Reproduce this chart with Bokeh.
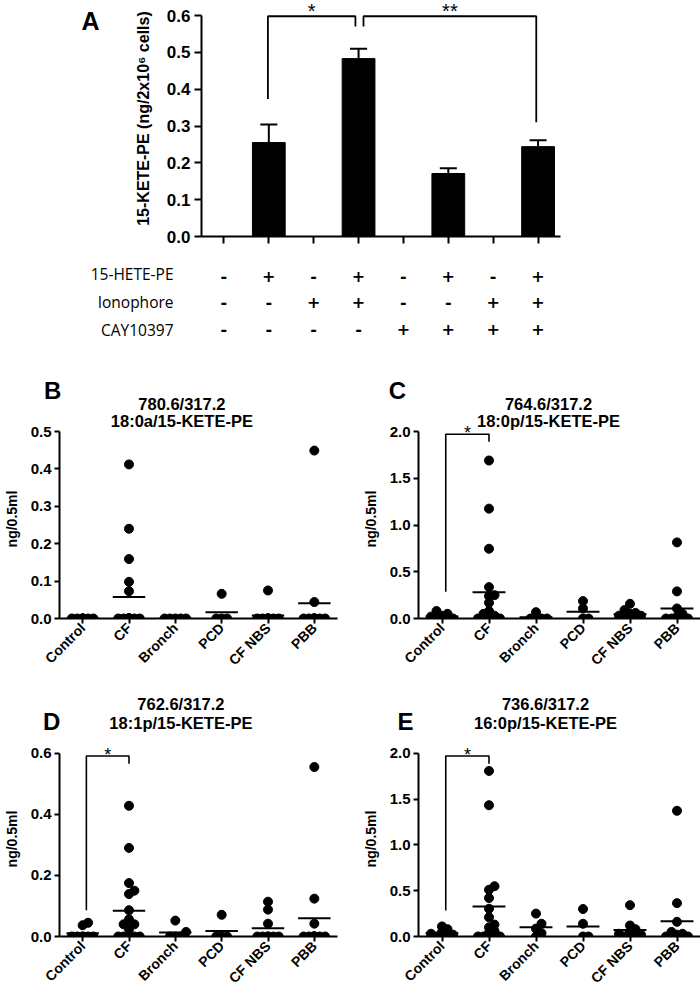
import numpy as np
from bokeh.plotting import figure
from bokeh.models import Range1d, FixedTicker, Label, NumeralTickFormatter
from bokeh.layouts import column, row
from bokeh.embed import file_html
from bokeh.resources import INLINE
from bokeh.core.properties import value

# ---------------- data ----------------
# Panel A
a_positions = [0, 1, 2, 3, 4, 5, 6, 7]
a_means = [0.0, 0.255, 0.0, 0.483, 0.0, 0.171, 0.0, 0.244]
a_sem = [0.0, 0.049, 0.0, 0.027, 0.0, 0.014, 0.0, 0.017]
a_yticks = [0.0, 0.1, 0.2, 0.3, 0.4, 0.5, 0.6]
a_ylabel = "15-KETE-PE (ng/2x10\u2076 cells)"
row_labels = ["15-HETE-PE", "Ionophore", "CAY10397"]
hete = ["-", "+", "-", "+", "-", "+", "-", "+"]
iono = ["-", "-", "+", "+", "-", "-", "+", "+"]
cay = ["-", "-", "-", "-", "+", "+", "+", "+"]
a_br_x0 = [0.98, 3.11]
a_br_x1 = [2.93, 6.96]
a_br_top = [0.598, 0.598]
a_br_left = [0.373, 0.570]
a_br_right = [0.570, 0.310]
a_br_text = ["*", "**"]

groups = ["Control", "CF", "Bronch", "PCD", "CF NBS", "PBB"]

# Panel B 780.6/317.2 18:0a/15-KETE-PE
b_vals = [
    [0, 0, 0, 0, 0, 0, 0, 0],
    [0.412, 0.24, 0.159, 0.098, 0.073, 0, 0, 0, 0, 0, 0, 0, 0, 0, 0, 0, 0],
    [0, 0, 0, 0, 0],
    [0.066, 0, 0, 0],
    [0.075, 0, 0, 0, 0, 0, 0, 0, 0],
    [0.449, 0.044, 0, 0, 0, 0, 0, 0, 0, 0, 0, 0],
]
# Panel C 764.6/317.2 18:0p/15-KETE-PE
c_vals = [
    [0.08, 0.05, 0.03, 0.02, 0, 0, 0, 0],
    [1.69, 1.175, 0.746, 0.336, 0.25, 0.24, 0.168, 0.08, 0.05, 0.03, 0.02, 0, 0, 0, 0, 0, 0],
    [0.068, 0, 0, 0, 0],
    [0.186, 0.107, 0, 0],
    [0.157, 0.09, 0.06, 0.05, 0.03, 0.03, 0, 0, 0],
    [0.814, 0.29, 0.107, 0.05, 0.02, 0, 0, 0, 0, 0, 0, 0],
]
# Panel D 762.6/317.2 18:1p/15-KETE-PE
d_vals = [
    [0.045, 0.037, 0, 0, 0, 0, 0, 0],
    [0.428, 0.29, 0.175, 0.15, 0.139, 0.086, 0.056, 0.04, 0.04, 0.024, 0, 0, 0, 0, 0, 0, 0],
    [0.052, 0.015, 0, 0, 0],
    [0.071, 0, 0, 0],
    [0.114, 0.088, 0.042, 0, 0, 0, 0, 0, 0],
    [0.555, 0.124, 0.042, 0, 0, 0, 0, 0, 0, 0, 0, 0],
]
# Panel E 736.6/317.2 16:0p/15-KETE-PE
e_vals = [
    [0.11, 0.08, 0.05, 0.03, 0.02, 0, 0, 0],
    [1.807, 1.433, 0.549, 0.51, 0.42, 0.303, 0.21, 0.13, 0.1, 0.06, 0.04, 0, 0, 0, 0, 0, 0],
    [0.25, 0.139, 0.086, 0.036, 0],
    [0.3, 0.139, 0, 0],
    [0.342, 0.12, 0.08, 0.05, 0.03, 0.02, 0, 0, 0],
    [1.372, 0.364, 0.16, 0.05, 0.03, 0.02, 0, 0, 0, 0, 0, 0],
]

b_yticks = [0.0, 0.1, 0.2, 0.3, 0.4, 0.5]
c_yticks = [0.0, 0.5, 1.0, 1.5, 2.0]
d_yticks = [0.0, 0.2, 0.4, 0.6]
e_yticks = [0.0, 0.5, 1.0, 1.5, 2.0]

# significance brackets: x0, x1, top, left-leg bottom, right-leg bottom, label
c_sig = (0.08, 1.0, 1.97, 0.286, 1.89, "*")
d_sig = (0.08, 1.0, 0.591, 0.086, 0.566, "*")
e_sig = (0.08, 1.0, 1.97, 0.285, 1.886, "*")

# ---------------- styling ----------------
FONT = "Liberation Sans"
BLACK = "#000000"
W = 700


def style_axis(ax, tick_size, lw=2):
    ax.axis_line_width = lw
    ax.axis_line_color = BLACK
    ax.major_tick_line_width = lw
    ax.major_tick_line_color = BLACK
    ax.minor_tick_line_color = None
    ax.major_tick_in = 0
    ax.major_label_text_font = FONT
    ax.major_label_text_font_style = "bold"
    ax.major_label_text_font_size = tick_size
    ax.major_label_text_color = BLACK
    ax.axis_label_text_font = FONT
    ax.axis_label_text_font_style = "bold"
    ax.axis_label_text_color = BLACK


# ---------------- Panel A ----------------
A_L, A_FW = 201, 359
A_T, A_HEAD, A_AX, A_B = 0, 15, 221, 15
A_FH = A_HEAD + A_AX
A_H = A_T + A_FH + A_B
A_YMAX = 0.6 * A_FH / A_AX
a_xrange = Range1d(-0.5, 7.5)
pA = figure(width=W, height=A_H, x_range=a_xrange, y_range=Range1d(0, A_YMAX),
            output_backend="svg", toolbar_location=None,
            min_border_left=A_L, min_border_right=W - A_L - A_FW,
            min_border_top=A_T, min_border_bottom=A_B)
pA.grid.visible = False
pA.outline_line_color = None
style_axis(pA.yaxis[0], "17px")
style_axis(pA.xaxis[0], "15px")
pA.yaxis.ticker = FixedTicker(ticks=a_yticks)
pA.yaxis.bounds = (0, 0.6)
pA.yaxis.formatter = NumeralTickFormatter(format="0.0")
pA.yaxis.major_tick_out = 7
pA.yaxis.major_label_standoff = 4
pA.yaxis.axis_label = a_ylabel
pA.yaxis.axis_label_text_font_size = "16px"
pA.yaxis.axis_label_standoff = 12
pA.xaxis.ticker = FixedTicker(ticks=a_positions)
pA.xaxis.major_label_overrides = {i: "" for i in a_positions}
pA.xaxis.major_tick_out = 7

pA.vbar(x=a_positions, top=a_means, width=0.73, fill_color=BLACK, line_color=BLACK, line_width=1)
ex = [x for x, s in zip(a_positions, a_sem) if s > 0]
etop = [m + s for m, s in zip(a_means, a_sem) if s > 0]
emid = [m for m, s in zip(a_means, a_sem) if s > 0]
pA.segment(x0=ex, y0=emid, x1=ex, y1=etop, line_color=BLACK, line_width=2)
pA.segment(x0=[x - 0.19 for x in ex], y0=etop, x1=[x + 0.19 for x in ex], y1=etop,
           line_color=BLACK, line_width=2)
pA.multi_line(xs=[[a, a, b, b] for a, b in zip(a_br_x0, a_br_x1)],
              ys=[[l, t, t, r] for l, t, r in zip(a_br_left, a_br_top, a_br_right)],
              line_color=BLACK, line_width=1.8)
pA.text(x=[(a + b) / 2 for a, b in zip(a_br_x0, a_br_x1)], y=[t + 0.013 for t in a_br_top],
        text=a_br_text, text_align="center", text_baseline="alphabetic",
        text_font=value(FONT), text_font_size="20px", text_color=BLACK)

lx = -0.5 + (90 - A_L) * 8.0 / A_FW
ly = (A_T + A_FH - 20) * A_YMAX / A_FH
pA.add_layout(Label(x=lx, y=ly, text="A", text_font=FONT, text_font_style="bold",
                    text_font_size="25px", text_align="center", text_baseline="middle",
                    text_color=BLACK), "left")

# ---------------- table under A ----------------
T_H = 92
T_ROW0, T_ROWSTEP = 24, 26.5
T_FONT = 15.5
ty_bottom = (T_H - T_ROW0) / T_ROWSTEP
ty_top = -T_ROW0 / T_ROWSTEP
pT = figure(width=W, height=T_H, x_range=a_xrange, y_range=Range1d(ty_bottom, ty_top),
            output_backend="svg", toolbar_location=None, x_axis_location=None,
            y_axis_location=None, min_border_left=A_L, min_border_right=W - A_L - A_FW,
            min_border_top=0, min_border_bottom=0)
pT.grid.visible = False
pT.outline_line_color = None
for r, signs in enumerate([hete, iono, cay]):
    pT.text(x=a_positions, y=[r] * len(signs), text=signs, text_align="center",
            text_baseline="middle", text_font=value("DejaVu Sans"), text_font_style="bold",
            text_font_size="16px", text_color=BLACK)
lab_x = -0.5 + (173 - A_L) * 8.0 / A_FW
pT.add_layout(Label(x=lab_x, y=(len(row_labels) - 1) / 2, text="\n".join(row_labels),
                    text_align="right", text_baseline="middle", text_font="Open Sans",
                    text_font_size=f"{T_FONT}px",
                    text_line_height=T_ROWSTEP / (1.362 * T_FONT),
                    text_color=BLACK), "left")


# ---------------- scatter panels ----------------
def swarm_offsets(vals, px_y, px_x, step=5.5, min_d=5.5):
    vals = np.asarray(vals, float)
    order = np.argsort(vals, kind="stable")
    cands = [0.0, step, -step, 2 * step, -2 * step]
    placed = []
    offs = np.zeros(len(vals))
    for i in order:
        yy = vals[i] * px_y
        best, best_score = 0.0, -1.0
        for c in cands:
            dmin = min([np.hypot(c - px, yy - py) for px, py in placed], default=np.inf)
            if dmin >= min_d:
                best = c
                break
            if dmin > best_score:
                best_score, best = dmin, c
        placed.append((best, yy))
        offs[i] = best / px_x
    return offs


AXIS_PX = 187.0
FRAME_H = 199


def scatter_panel(vals, yticks, ymax, titles, letter, sig, width, left, frame_w, top, bottom,
                  letter_cx, letter_dy, title_cx, title_dys):
    height = top + FRAME_H + bottom
    yend = ymax * FRAME_H / AXIS_PX
    p = figure(width=width, height=height, x_range=Range1d(-0.5, 5.5), y_range=Range1d(0, yend),
               output_backend="svg", toolbar_location=None,
               min_border_left=left, min_border_right=width - left - frame_w,
               min_border_top=top, min_border_bottom=bottom)
    p.grid.visible = False
    p.outline_line_color = None
    style_axis(p.yaxis[0], "15px")
    style_axis(p.xaxis[0], "14px")
    p.yaxis.ticker = FixedTicker(ticks=yticks)
    p.yaxis.bounds = (0, ymax)
    p.yaxis.formatter = NumeralTickFormatter(format="0.0")
    p.yaxis.major_tick_out = 5
    p.yaxis.axis_label = "ng/0.5ml"
    p.yaxis.axis_label_text_font_size = "14px"
    p.yaxis.axis_label_standoff = 8
    p.yaxis.major_label_standoff = 3
    p.xaxis.ticker = FixedTicker(ticks=list(range(len(groups))))
    p.xaxis.major_label_overrides = {i: g for i, g in enumerate(groups)}
    p.xaxis.major_label_orientation = np.pi / 4
    p.xaxis.major_tick_out = 5
    p.xaxis.major_label_standoff = 2

    px_x = frame_w / 6.0
    px_y = AXIS_PX / ymax
    xs, ys, mx0, mx1, my = [], [], [], [], []
    for gi, v in enumerate(vals):
        offs = swarm_offsets(v, px_y, px_x)
        xs.extend(gi + offs)
        ys.extend(v)
        m = float(np.mean(v))
        mx0.append(gi - 0.35)
        mx1.append(gi + 0.35)
        my.append(m)
    p.segment(x0=mx0, y0=my, x1=mx1, y1=my, line_color=BLACK, line_width=2)
    p.scatter(x=xs, y=ys, size=9, marker="circle", fill_color=BLACK, line_color=BLACK)

    if sig is not None:
        x0, x1, tp, lb, rb, s = sig
        p.line(x=[x0, x0, x1, x1], y=[lb, tp, tp, rb], line_color=BLACK, line_width=1.6)
        p.text(x=[(x0 + x1) / 2], y=[tp + ymax * 0.008], text=[s], text_align="center",
               text_baseline="alphabetic", text_font=value(FONT), text_font_size="18px",
               text_color=BLACK)

    axis_top_cy = top + FRAME_H - AXIS_PX

    def to_data(cx, cy):
        return (-0.5 + (cx - left) / px_x, (top + FRAME_H - cy) / px_y)

    lx, ly = to_data(letter_cx, axis_top_cy + letter_dy)
    p.add_layout(Label(x=lx, y=ly, text=letter, text_font=FONT, text_font_style="bold",
                       text_font_size="24px", text_align="center", text_baseline="middle",
                       text_color=BLACK), "above")
    for t, dy in zip(titles, title_dys):
        tx, tyd = to_data(title_cx, axis_top_cy + dy)
        p.add_layout(Label(x=tx, y=tyd, text=t, text_font=FONT, text_font_style="bold",
                           text_font_size="16.5px", text_align="center", text_baseline="middle",
                           text_color=BLACK), "above")
    return p


LW, RW = 350, W - 350
# row B/C starts at y=343: frame top 419 (axis max 431, zero 618)
TOP_BC, BOT_BC = 76, 60
# row D/E starts at y=678: frame top 737 (axis max 749, zero 936)
TOP_DE, BOT_DE = 59, 60
pB = scatter_panel(b_vals, b_yticks, 0.5, ["780.6/317.2", "18:0a/15-KETE-PE"], "B", None,
                   LW, 53, 284, TOP_BC, BOT_BC, 46, -41, 178, (-28, -11))
pC = scatter_panel(c_vals, c_yticks, 2.0, ["764.6/317.2", "18:0p/15-KETE-PE"], "C", c_sig,
                   RW, 68, 282, TOP_BC, BOT_BC, 47, -41, 198, (-28, -11))
pD = scatter_panel(d_vals, d_yticks, 0.6, ["762.6/317.2", "18:1p/15-KETE-PE"], "D", d_sig,
                   LW, 53, 284, TOP_DE, BOT_DE, 45, -32, 177, (-50, -31))
pE = scatter_panel(e_vals, e_yticks, 2.0, ["736.6/317.2", "16:0p/15-KETE-PE"], "E", e_sig,
                   RW, 68, 282, TOP_DE, BOT_DE, 55, -32, 195, (-50, -31))

layout = column(pA, pT, row(pB, pC), row(pD, pE))
open("out.html", "w").write(file_html(layout, INLINE, "Figure"))
